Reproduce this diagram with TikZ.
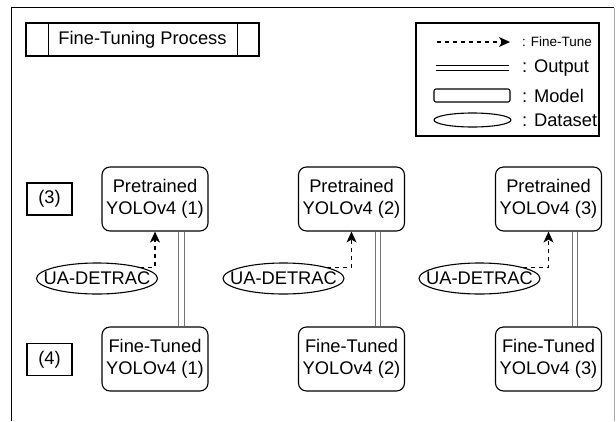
\documentclass[tikz,border=0pt]{standalone}
\usepackage{fontspec}
\setmainfont{Liberation Sans}
\usetikzlibrary{arrows.meta,shapes.geometric}
\begin{document}
\begin{tikzpicture}[x=1pt,y=-1pt,
	every node/.style={font=\fontsize{18.3}{22.5}\selectfont},
	frameline/.style={line width=1.5pt},
	model/.style={draw,line width=1.1pt,rounded corners=8pt,minimum width=106pt,minimum height=64pt,inner sep=0pt,align=center},
	stagebox/.style={draw,line width=1.1pt,minimum width=45pt,minimum height=32pt,inner sep=0pt},
	dataset/.style={draw,ellipse,line width=1.1pt,minimum width=121pt,minimum height=31pt,inner xsep=-11pt,inner ysep=0pt},
	finetune/.style={line width=1.1pt,dash pattern=on 4pt off 4pt,-{Stealth[length=11pt,width=10pt,inset=3pt]}},
	outputline/.style={double,double distance=4.5pt,line width=1.1pt,draw=black!55},
	keytext/.style={anchor=west,inner sep=0pt}]
		\useasboundingbox (0,0) rectangle (616,421);
		% outer frame
		\draw[frameline] (11.5,421) -- (11.5,7.5) -- (614,7.5);
		\draw[black!35] (614,7.5) -- (614,421);
		% title
		\node[draw,line width=1.1pt,minimum width=233pt,minimum height=33pt,inner sep=0pt] (title) at (142.5,39.5) {Fine-Tuning Process};
		\draw[line width=1.1pt] ([xshift=23pt]title.north west) -- ([xshift=23pt]title.south west);
		\draw[line width=1.1pt] ([xshift=-22pt]title.north east) -- ([xshift=-22pt]title.south east);
		% legend
		\node[draw,line width=1.1pt,minimum width=183pt,minimum height=113pt] (legend) at (507.5,79.5) {};
		\coordinate (fta) at (437,42);
		\coordinate (ftb) at (510,42);
		\draw[finetune,draw=black] (fta) -- (ftb);
		\node[keytext,font=\fontsize{13.5}{16}\selectfont] (ftkey) at (522,42) {: Fine-Tune};
		\coordinate (outa) at (436,68);
		\coordinate (outb) at (509,68);
		\draw[double,double distance=4.5pt,line width=1.1pt] (outa) -- (outb);
		\node[keytext] (outkey) at (522,68) {: Output};
		\node[draw,line width=1.1pt,rounded corners=2pt,minimum width=76pt,minimum height=13pt,inner sep=0pt] (modelbox) at (472,95.5) {};
		\node[keytext] (modelkey) at (522,95.5) {: Model};
		\node[draw,ellipse,line width=1.1pt,minimum width=77pt,minimum height=14pt,inner sep=0pt] (databox) at (472.5,120) {};
		\node[keytext] (datakey) at (522,120) {: Dataset};
		% stages
		\node[stagebox] (s3) at (49.5,199) {(3)};
		\node[stagebox] (s4) at (49.5,359.5) {(4)};
		% models
		\foreach \i/\cx/\ex in {1/155/97,2/351.5/283.5,3/548.5/479.5}{
			\node[model] (p\i) at (\cx,199) {Pretrained\\YOLOv4 (\i)};
			\node[model] (f\i) at (\cx,359) {Fine-Tuned\\YOLOv4 (\i)};
			\node[dataset] (d\i) at (\ex,278.5) {UA-DETRAC};
			\draw[finetune] (d\i.north east) -| (p\i.south);
			\draw[outputline] ([xshift=26.5pt]p\i.south) -- ([xshift=26.5pt]f\i.north);
		}
\end{tikzpicture}
\end{document}
